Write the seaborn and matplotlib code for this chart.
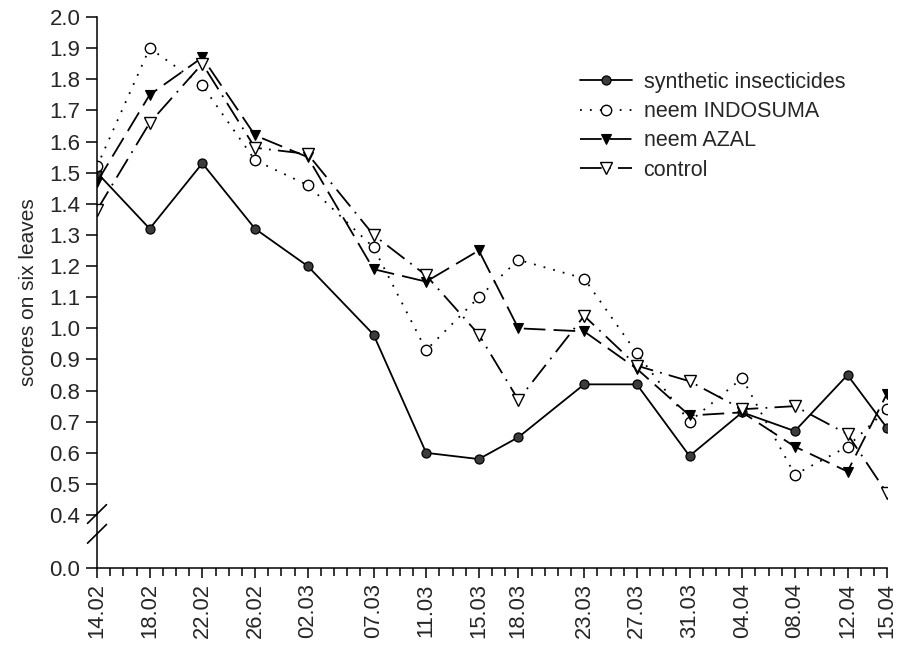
import numpy as np
import pandas as pd
import matplotlib
matplotlib.use("Agg")
import matplotlib.pyplot as plt
import matplotlib.dates as mdates
from matplotlib.lines import Line2D
import seaborn as sns

# ---- data ----
dates = ["14.02", "18.02", "22.02", "26.02", "02.03", "07.03", "11.03", "15.03",
         "18.03", "23.03", "27.03", "31.03", "04.04", "08.04", "12.04", "15.04"]
synthetic = [1.50, 1.32, 1.53, 1.32, 1.20, 0.98, 0.60, 0.58,
             0.65, 0.82, 0.82, 0.59, 0.73, 0.67, 0.85, 0.68]
indosuma = [1.52, 1.90, 1.78, 1.54, 1.46, 1.26, 0.93, 1.10,
            1.22, 1.16, 0.92, 0.70, 0.84, 0.53, 0.62, 0.74]
azal = [1.47, 1.75, 1.87, 1.62, 1.55, 1.19, 1.15, 1.25,
        1.00, 0.99, 0.87, 0.72, 0.73, 0.62, 0.54, 0.79]
control = [1.38, 1.66, 1.85, 1.58, 1.56, 1.30, 1.17, 0.98,
           0.77, 1.04, 0.88, 0.83, 0.74, 0.75, 0.66, 0.47]
series_names = ["synthetic insecticides", "neem INDOSUMA", "neem AZAL", "control"]
y_ticks = [0.0, 0.4, 0.5, 0.6, 0.7, 0.8, 0.9, 1.0, 1.1, 1.2, 1.3, 1.4, 1.5,
           1.6, 1.7, 1.8, 1.9, 2.0]
y_label = "scores on six leaves"

x = pd.to_datetime([d + ".2001" for d in dates], format="%d.%m.%Y")

sns.set_style("ticks")
plt.rcParams["font.family"] = ["Liberation Sans", "DejaVu Sans"]

fig = plt.figure(figsize=(8.97, 6.46), dpi=100)
ax = fig.add_axes([97 / 897, 78 / 646, 790 / 897, 551 / 646])

# broken y axis: compress 0.0-0.4
K = 0.4247
def fwd(v):
    v = np.asarray(v, dtype=float)
    return np.where(v >= 0.4, v, 0.4 - (0.4 - v) * K)
def inv(v):
    v = np.asarray(v, dtype=float)
    return np.where(v >= 0.4, v, 0.4 - (0.4 - v) / K)
ax.set_yscale("function", functions=(fwd, inv))

styles = [
    dict(marker="o", linestyle="-", markerfacecolor="#3c3c3c", markeredgecolor="black",
         markersize=6.5, markeredgewidth=0.9),
    dict(marker="o", linestyle=(0, (1, 4.5)), markerfacecolor="white", markeredgecolor="black",
         markersize=7.5, markeredgewidth=1.0),
    dict(marker="v", linestyle=(0, (12, 4.5)), markerfacecolor="black", markeredgecolor="black",
         markersize=7, markeredgewidth=0.8),
    dict(marker="v", linestyle=(0, (12, 4, 1, 4)), markerfacecolor="white", markeredgecolor="black",
         markersize=8.5, markeredgewidth=1.0),
]
values = [synthetic, indosuma, azal, control]
for name, vals, st in zip(series_names, values, styles):
    sns.lineplot(x=x, y=vals, ax=ax, color="black", linewidth=1.3, label=name, **st)

ax.set_ylim(0, 2.0)
ax.set_xlim(x[0], x[-1])
ax.set_yticks(y_ticks)
ax.set_yticklabels([f"{t:.1f}" for t in y_ticks])
ax.yaxis.set_minor_locator(plt.NullLocator())
ax.set_xticks(x)
ax.xaxis.set_major_formatter(mdates.DateFormatter("%d.%m"))
ax.xaxis.set_minor_locator(mdates.DayLocator())
ax.tick_params(axis="x", which="major", labelrotation=90, length=7, width=1.1,
               labelsize=15.8, pad=4, color="black")
ax.tick_params(axis="x", which="minor", length=6, width=1.1, color="black")
ax.tick_params(axis="y", which="major", length=8, width=1.1, labelsize=16, pad=4, color="black")
for lab in ax.get_xticklabels():
    lab.set_rotation(90)
ax.set_xlabel("")
ax.set_ylabel(y_label, fontsize=15, labelpad=8)

sns.despine(ax=ax)
for s in ["left", "bottom"]:
    ax.spines[s].set_linewidth(1.1)
    ax.spines[s].set_color("black")

# break marks on the y axis
for yc in (0.098, 0.062):
    ax.plot([-0.012, 0.012], [yc - 0.017, yc + 0.017], transform=ax.transAxes,
            color="black", lw=1.2, clip_on=False)

# legend
handles = [Line2D([0], [0], color="black", linewidth=1.3, **st) for st in styles]
leg = ax.legend(handles, series_names, loc="upper left",
                bbox_to_anchor=(580 / 897, (646 - 72) / 646),
                bbox_transform=fig.transFigure, frameon=False, fontsize=15.5,
                handlelength=2.4, handletextpad=0.55, labelspacing=0.38,
                borderpad=0, borderaxespad=0, numpoints=1)

fig.savefig("out.png", dpi=100)
